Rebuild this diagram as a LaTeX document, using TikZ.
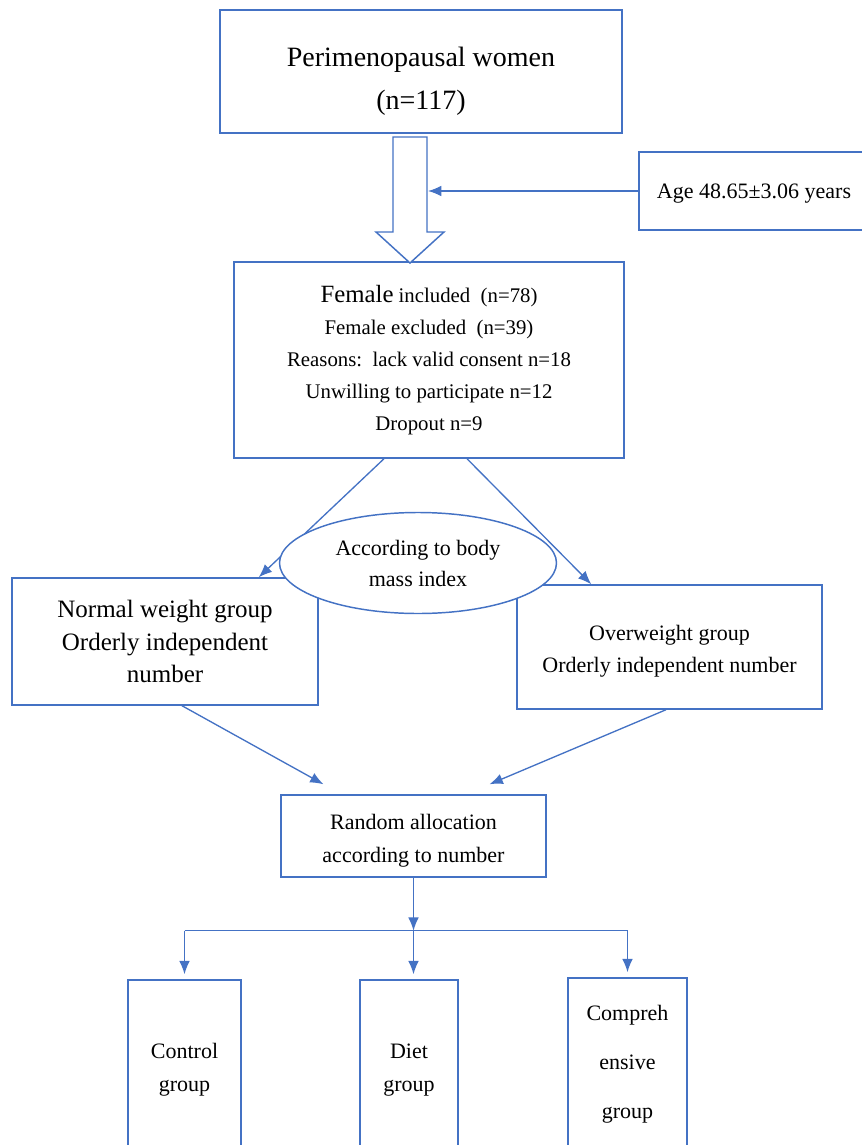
\documentclass[tikz,border=0pt]{standalone}
\usepackage{fontspec}
\setmainfont{Liberation Serif}
\usetikzlibrary{shapes.geometric,calc,arrows.meta}
\definecolor{flowblue}{RGB}{68,114,196}

\begin{document}
\begin{tikzpicture}[x=0.75pt,y=-0.75pt,>={Latex[length=10pt,width=8pt]},
                   box/.style={draw=flowblue,line width=1.1pt,align=center,inner sep=0pt},
                   link/.style={draw=flowblue,line width=1pt},
                   every node/.style={font=\fontsize{16.5}{24.5}\selectfont}]
\useasboundingbox (0,0) rectangle (861,1145);
\node[box,minimum width=301.5pt,minimum height=92.25pt,font=\fontsize{21}{32}\selectfont] (women) at (421,71.5) {\rule{0pt}{29pt}Perimenopausal women\\(n=117)};
\node[box,minimum width=172.5pt,minimum height=58.5pt] (age) at (754,191) {\rule{0pt}{15pt}Age 48.65±3.06 years};
\node[box,minimum width=292.5pt,minimum height=147pt,font=\fontsize{15.6}{24}\selectfont] (female) at (429,360)
  {{\fontsize{18.6}{24}\selectfont Female} included\ \ (n=78)\\Female excluded\ \ (n=39)\\Reasons:\ \ lack valid consent n=18\\Unwilling to participate n=12\\Dropout n=9};
\draw[flowblue,line width=1.1pt,fill=white] (393,137) -- (393,232) -- (376,232) -- (410,263)
  -- (444,232) -- (427,232) -- (427,137) -- cycle;
\coordinate (shaft) at (428,191);
\draw[link,->] (age.west) -- (shaft);
\node[box,minimum width=229.5pt,minimum height=95.25pt,font=\fontsize{18.75}{24.4}\selectfont] (normal) at (165,641.5) {Normal weight group\\Orderly independent\\number};
\node[box,minimum width=228.75pt,minimum height=93pt,font=\fontsize{16.5}{24}\selectfont] (over) at (669.5,647) {\rule{0pt}{17.5pt}Overweight group\\Orderly independent number};
\draw[link,->] ($(female.south)+(-45,0)$) -- ($(normal.north east)+(-60,0)$);
\draw[link,->] ($(female.south)+(38,0)$) -- ($(over.north west)+(75,0)$);
\node[ellipse,draw=flowblue,line width=1.1pt,fill=white,minimum width=207.75pt,minimum height=75.75pt,
      inner sep=0pt,align=center,font=\fontsize{16.5}{23.25}\selectfont] (bmi) at (418,563) {According to body\\mass index};
\node[box,minimum width=198.75pt,minimum height=61.5pt,font=\fontsize{16.5}{24.75}\selectfont] (random) at (413.5,836) {\rule{0pt}{19pt}Random allocation\\according to number};
\draw[link,->] ($(normal.south)+(17,0)$) -- ($(random.north)+(-90,-10)$);
\draw[link,->] ($(over.south)+(-3.5,0)$) -- ($(random.north)+(76,-10)$);
\node[box,minimum width=84.75pt,minimum height=135pt,font=\fontsize{16.5}{25}\selectfont] (control) at (184.5,1070) {Control\\group};
\node[box,minimum width=73.5pt,minimum height=135pt,font=\fontsize{16.5}{25}\selectfont] (diet) at (409,1070) {Diet\\group};
\node[box,minimum width=89.25pt,minimum height=129pt,font=\fontsize{16.5}{36.75}\selectfont] (compre) at (627.5,1064) {Compreh\\ensive\\group};
\coordinate (split) at ($(random.south)+(0,53)$);
\draw[link,->] (random.south) -- (split);
\draw[link] (control.north |- split) -- (compre.north |- split);
\draw[link,->] (split) -- ($(split |- diet.north)+(0,-5)$);
\foreach \g in {control,compre}{
  \draw[link,->] (\g.north |- split) -- ($(\g.north)+(0,-5)$);
}
\end{tikzpicture}
\end{document}
